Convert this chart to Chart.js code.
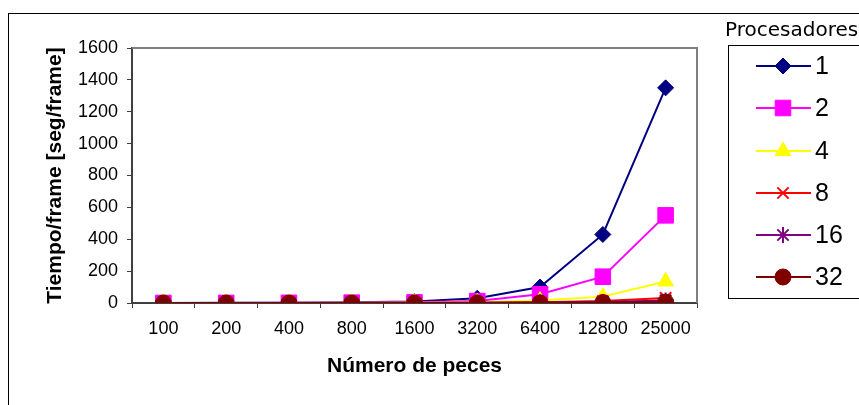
<!DOCTYPE html>
<html><head><meta charset="utf-8">
<script src="https://cdn.jsdelivr.net/npm/chart.js@4"></script>
<style>html,body{margin:0;padding:0;background:#fff}#wrap{width:859px;height:405px;position:relative}</style>
</head><body><div id="wrap"><canvas id="c" width="859" height="405"></canvas></div>
<script>
const categories = ['100','200','400','800','1600','3200','6400','12800','25000'];
const seriesNames = ['1','2','4','8','16','32'];
const p1  = [0.5, 1, 2, 4, 10, 30, 100, 430, 1350];
const p2  = [0.3, 0.5, 1, 2, 4, 12, 55, 165, 550];
const p4  = [0.1, 0.3, 0.5, 1, 2, 5, 15, 40, 135];
const p8  = [0.1, 0.2, 0.3, 0.5, 1, 2, 5, 12, 32];
const p16 = [0.1, 0.1, 0.2, 0.3, 0.5, 1, 3, 6, 16];
const p32 = [0.1, 0.1, 0.1, 0.2, 0.3, 0.5, 1, 3, 6];
const yTicks = [0, 200, 400, 600, 800, 1000, 1200, 1400, 1600];

const styles = [
  {color:'#000080', pt:'rectRot', r:8},
  {color:'#FF00FF', pt:'rect', r:11},
  {color:'#FFFF00', pt:'triangle', r:9},
  {color:'#FF0000', pt:'crossRot', r:8},
  {color:'#800080', pt:'star', r:8},
  {color:'#800000', pt:'circle', r:8}
];
const allData = [p1,p2,p4,p8,p16,p32];
const datasets = allData.map((d,i)=>({
  label: seriesNames[i], data: d,
  borderColor: styles[i].color, backgroundColor: styles[i].color,
  borderWidth: 2, pointStyle: styles[i].pt, pointRadius: styles[i].r,
  pointBorderWidth: (styles[i].pt==='crossRot'||styles[i].pt==='star')?2:1,
  pointBorderColor: styles[i].color, pointBackgroundColor: styles[i].color,
  tension: 0, order: 6 - i
}));

const PL = 132, PR = 697, PT = 48, PB = 303;
const FONT = '"Liberation Sans", Arial, sans-serif';

const deco = {
  id:'deco',
  beforeDatasetsDraw(chart){
    const ctx = chart.ctx, a = chart.chartArea;
    ctx.save();
    ctx.strokeStyle = '#808080'; ctx.lineWidth = 2;
    ctx.beginPath();
    ctx.moveTo(a.left, a.top); ctx.lineTo(a.right, a.top); ctx.lineTo(a.right, a.bottom);
    ctx.stroke();
    ctx.restore();
  },
  afterDraw(chart){
    const ctx = chart.ctx;
    ctx.save();
    ctx.strokeStyle = '#000'; ctx.lineWidth = 1;
    ctx.strokeRect(8.5, 13.5, 1000, 600);
    ctx.strokeRect(728.5, 45.5, 400, 253);
    ctx.fillStyle = '#000';
    ctx.font = '20px "DejaVu Sans"';
    ctx.textBaseline = 'middle'; ctx.textAlign = 'left';
    ctx.fillText('Procesadores', 725, 31);
    const ys = [66, 108, 151, 193, 235, 277];
    chart.data.datasets.forEach((ds,i)=>{
      const y = ys[i];
      ctx.strokeStyle = ds.borderColor; ctx.lineWidth = 2;
      ctx.beginPath(); ctx.moveTo(756, y); ctx.lineTo(811, y); ctx.stroke();
      ctx.fillStyle = ds.pointBackgroundColor; ctx.strokeStyle = ds.pointBorderColor;
      ctx.lineWidth = ds.pointBorderWidth;
      Chart.helpers.drawPoint(ctx, {pointStyle: ds.pointStyle, radius: ds.pointRadius, borderWidth: ds.pointBorderWidth, rotation:0}, 783, y);
      ctx.fillStyle = '#000';
      ctx.font = '25px ' + FONT;
      ctx.fillText(ds.label, 815, y + 1);
    });
    ctx.restore();
  }
};

new Chart(document.getElementById('c'), {
  type:'line',
  data:{labels: categories, datasets},
  options:{
    responsive:false, animation:false, devicePixelRatio:1,
    layout:{padding:{left:0, right: 859-PR, top: PT, bottom:0}},
    plugins:{legend:{display:false}, tooltip:{enabled:false}},
    scales:{
      x:{
        offset:true,
        grid:{display:true, drawOnChartArea:false, offset:true, tickLength:5, color:'#404040', lineWidth:1},
        border:{display:true, color:'#404040', width:2},
        ticks:{color:'#000', font:{family:FONT, size:18}, padding:10, maxRotation:0, autoSkip:false},
        title:{display:true, text:'Número de peces', color:'#000', font:{family:FONT, size:21, weight:'bold'}, padding:{top:26, bottom:26}},
        afterFit(s){ s.height = 405 - PB; }
      },
      y:{
        min:0, max:1600,
        afterBuildTicks(s){ s.ticks = yTicks.map(v=>({value:v})); },
        grid:{display:true, drawOnChartArea:false, tickLength:5, color:'#404040', lineWidth:1},
        border:{display:true, color:'#404040', width:2},
        ticks:{color:'#000', font:{family:FONT, size:18}, padding:9, callback:(v)=>String(v)},
        title:{display:true, text:'Tiempo/frame [seg/frame]', color:'#000', font:{family:FONT, size:21, weight:'bold'}, padding:{top:43, bottom:43}},
        afterFit(s){ s.width = PL; }
      }
    }
  },
  plugins:[deco]
});
</script></body></html>
